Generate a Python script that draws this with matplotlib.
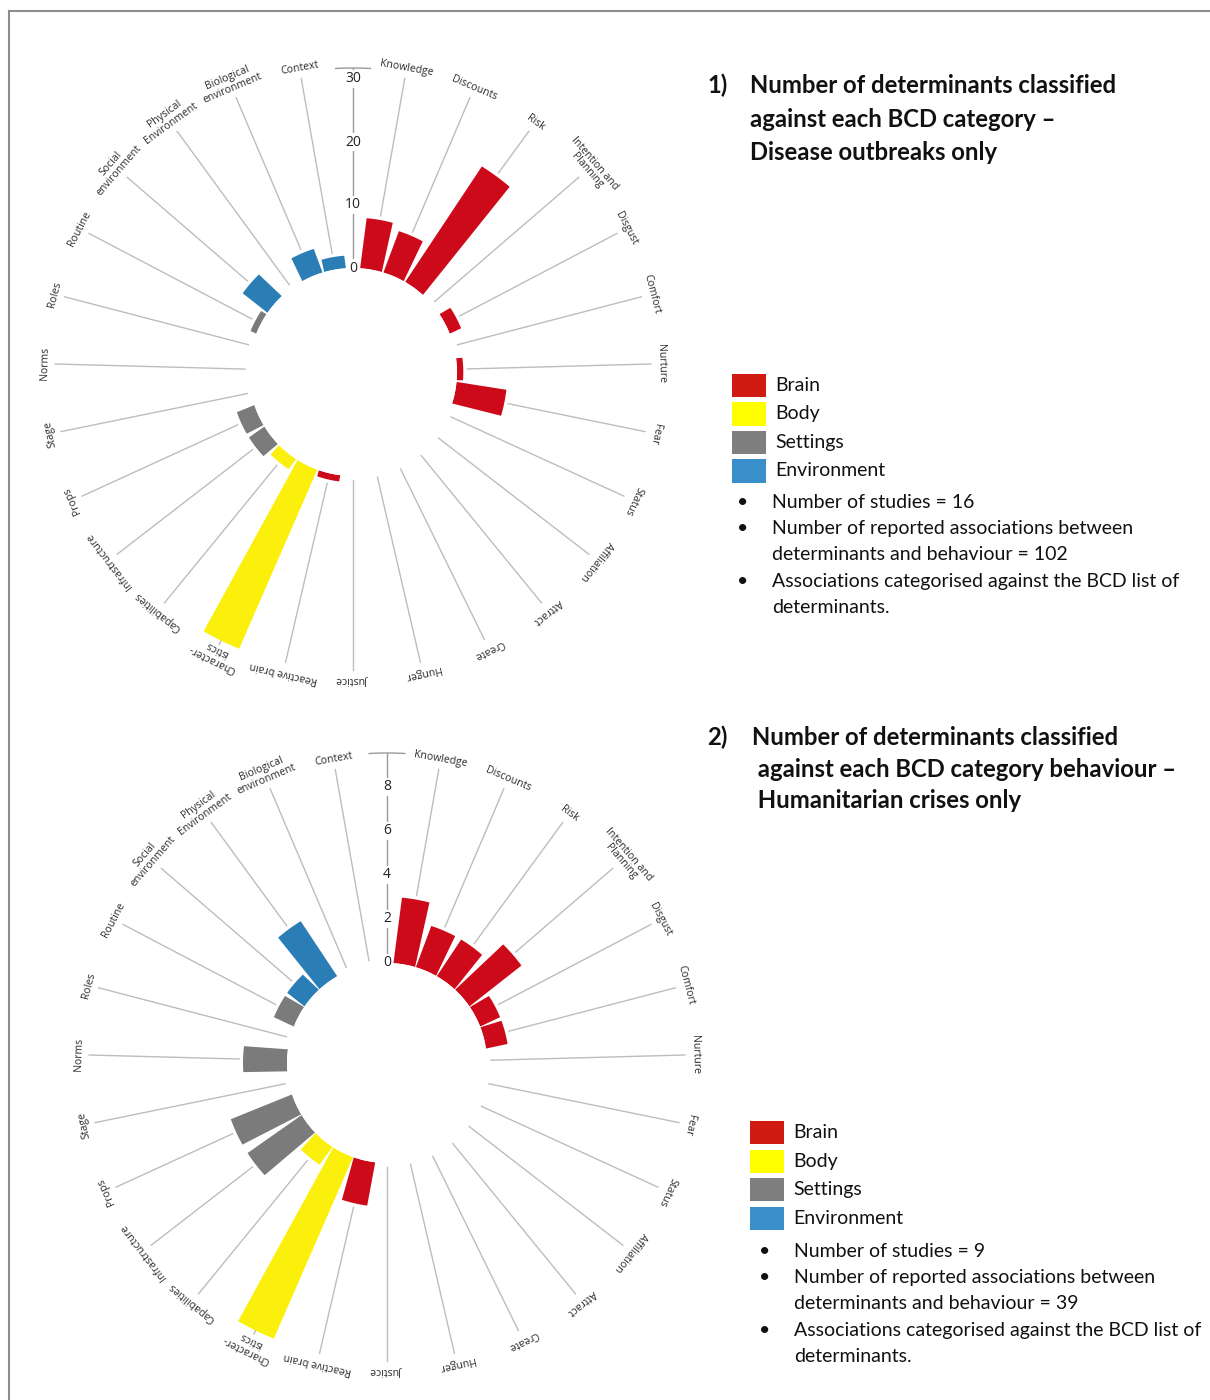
import numpy as np
import matplotlib.pyplot as plt

plt.rcParams['font.family'] = ['Open Sans', 'DejaVu Sans']

# BCD categories, clockwise from the top
categories = ['Knowledge', 'Discounts', 'Risk', 'Intention and\nPlanning', 'Disgust', 'Comfort',
              'Nurture', 'Fear', 'Status', 'Affiliation', 'Attract', 'Create', 'Hunger',
              'Justice', 'Reactive brain', 'Character-\nistics', 'Capabilities',
              'Infrastructure', 'Props', 'Stage', 'Norms', 'Roles', 'Routine',
              'Social\nenvironment', 'Physical\nEnvironment', 'Biological\nenvironment',
              'Context']
groups = ['Brain'] * 15 + ['Body'] * 2 + ['Settings'] * 6 + ['Environment'] * 4

outbreaks = [8, 7, 22, 0, 2, 0, 1, 8, 0, 0, 0, 0, 0, 0, 1, 31, 2, 3, 3, 0, 0, 0, 1, 5, 0, 4, 2]
crises = [3, 2, 2, 3, 1, 1, 0, 0, 0, 0, 0, 0, 0, 0, 2, 9, 1, 3, 3, 0, 2, 0, 1, 1, 3, 0, 0]

ticks_outbreaks = [0, 10, 20, 30]
ticks_crises = [0, 2, 4, 6, 8]

legend_names = ['Brain', 'Body', 'Settings', 'Environment']
colors = {'Brain': '#cd0a19', 'Body': '#fbf00c', 'Settings': '#7b7b7b', 'Environment': '#2a7db5'}
legend_colors = ['#d01b12', '#ffff00', '#7f7f7f', '#3a8fcb']

title1 = ['Number of determinants classified', 'against each BCD category \u2013',
          'Disease outbreaks only']
title2 = ['Number of determinants classified', ' against each BCD category behaviour \u2013',
          ' Humanitarian crises only']
notes1 = ['Number of studies = 16',
          'Number of reported associations between\ndeterminants and behaviour = 102',
          'Associations categorised against the BCD list of\ndeterminants.']
notes2 = ['Number of studies = 9',
          'Number of reported associations between\ndeterminants and behaviour = 39',
          'Associations categorised against the BCD list of\ndeterminants.']

W, H = 1210, 1400
fig = plt.figure(figsize=(W / 100, H / 100), dpi=100)


def radial_chart(cx, cy, values, ticks, inner, scale, arc_px, R=300):
    ax = fig.add_axes([(cx - R) / W, 1 - (cy + R) / H, 2 * R / W, 2 * R / H], projection='polar')
    ax.set_theta_zero_location('N')
    ax.set_theta_direction(-1)
    step = 340.0 / (len(categories) - 1)
    deg = 10 + np.arange(len(categories)) * step
    theta = np.deg2rad(deg)
    vals = np.array(values, dtype=float)

    # bars: nearly parallel sided blocks (width grows slowly with radius)
    def half_angle(p):
        return np.arcsin((11 + 0.045 * (p - inner)) / p)

    for t, v, g in zip(theta, vals, groups):
        if v <= 0:
            continue
        a_in = half_angle(inner)
        a_out = half_angle(inner + v * scale)
        th = np.concatenate([np.linspace(t - a_in, t + a_in, 10),
                             np.linspace(t + a_out, t - a_out, 10)])
        rr = np.concatenate([np.zeros(10), np.full(10, v)])
        ax.fill(th, rr, color=colors[g], lw=0, zorder=3)

    # leader lines from bar end to the label ring
    r_out = (298 - inner) / scale
    for t, v in zip(theta, vals):
        ax.plot([t, t], [v + 4.0 / scale, r_out], color='#bdbdbd', lw=1, clip_on=False, zorder=2)

    r_lab = (303 - inner) / scale
    for t, d, lab in zip(theta, deg, categories):
        ax.text(t, r_lab, lab, rotation=-d, rotation_mode='anchor', ha='center', va='bottom',
                multialignment='center', fontsize=7.6, color='#2b2b2b', linespacing=1.0)

    # radial axis at the top
    r_arc = (arc_px - inner) / scale
    ax.plot([0, 0], [0, r_arc], color='#9a9a9a', lw=1, clip_on=False, zorder=2)
    arc_t = np.deg2rad(np.linspace(-3.3, 3.3, 30))
    ax.plot(arc_t, np.full_like(arc_t, r_arc), color='#9a9a9a', lw=1, clip_on=False)
    for tk in ticks:
        ax.text(0, tk, str(tk), ha='center', va='center', fontsize=10, color='#222222',
                zorder=5, bbox=dict(facecolor='white', edgecolor='none', pad=1.2))

    ax.set_rorigin(-inner / scale)
    ax.set_ylim(0, (R - inner) / scale)
    ax.axis('off')
    return ax


radial_chart(353, 372, outbreaks, ticks_outbreaks, inner=104, scale=6.3, arc_px=304)
radial_chart(387, 1063, crises, ticks_crises, inner=100, scale=22.0, arc_px=310)


def fx(x):
    return x / W


def fy(y):
    return 1 - y / H


def title_block(num, lines, x_num, x_txt, baselines):
    fig.text(fx(x_num), fy(baselines[0]), num, fontsize=17.2, fontweight='bold',
             family='Lato', va='baseline', color='#111111')
    for line, b in zip(lines, baselines):
        fig.text(fx(x_txt), fy(b), line, fontsize=17.2, fontweight='bold', family='Lato',
                 va='baseline', color='#111111')


def legend_block(x_sq, top, notes, x_bul, x_note, note_top):
    for i, (name, c) in enumerate(zip(legend_names, legend_colors)):
        y0 = top + i * 28.5
        fig.patches.append(plt.Rectangle((fx(x_sq), fy(y0 + 23)), 34 / W, 23 / H,
                                         transform=fig.transFigure, facecolor=c,
                                         edgecolor='none'))
        fig.text(fx(x_sq + 43), fy(y0 + 11.5), name, fontsize=14, family='Lato',
                 va='center', color='#111111')
    y = note_top
    for note in notes:
        fig.text(fx(x_bul), fy(y), '\u2022', fontsize=14, family='Lato', va='baseline',
                 ha='center', color='#111111')
        for ln in note.split('\n'):
            fig.text(fx(x_note), fy(y), ln, fontsize=14, family='Lato', va='baseline',
                     color='#111111')
            y += 26.2


title_block('1)', title1, 707, 750, [93, 127, 160])
title_block('2)', title2, 707, 752, [745, 777, 808])
legend_block(732, 374, notes1, 743, 772, 508)
legend_block(750, 1121, notes2, 765, 794, 1257)

# frame lines on the left and top
fig.add_artist(plt.Line2D([fx(9), fx(9)], [0, fy(11)], transform=fig.transFigure,
                          color='#8c8c8c', lw=1.5))
fig.add_artist(plt.Line2D([fx(9), 1], [fy(11), fy(11)], transform=fig.transFigure,
                          color='#8c8c8c', lw=1.5))

fig.savefig('out.png', dpi=100, facecolor='white')
